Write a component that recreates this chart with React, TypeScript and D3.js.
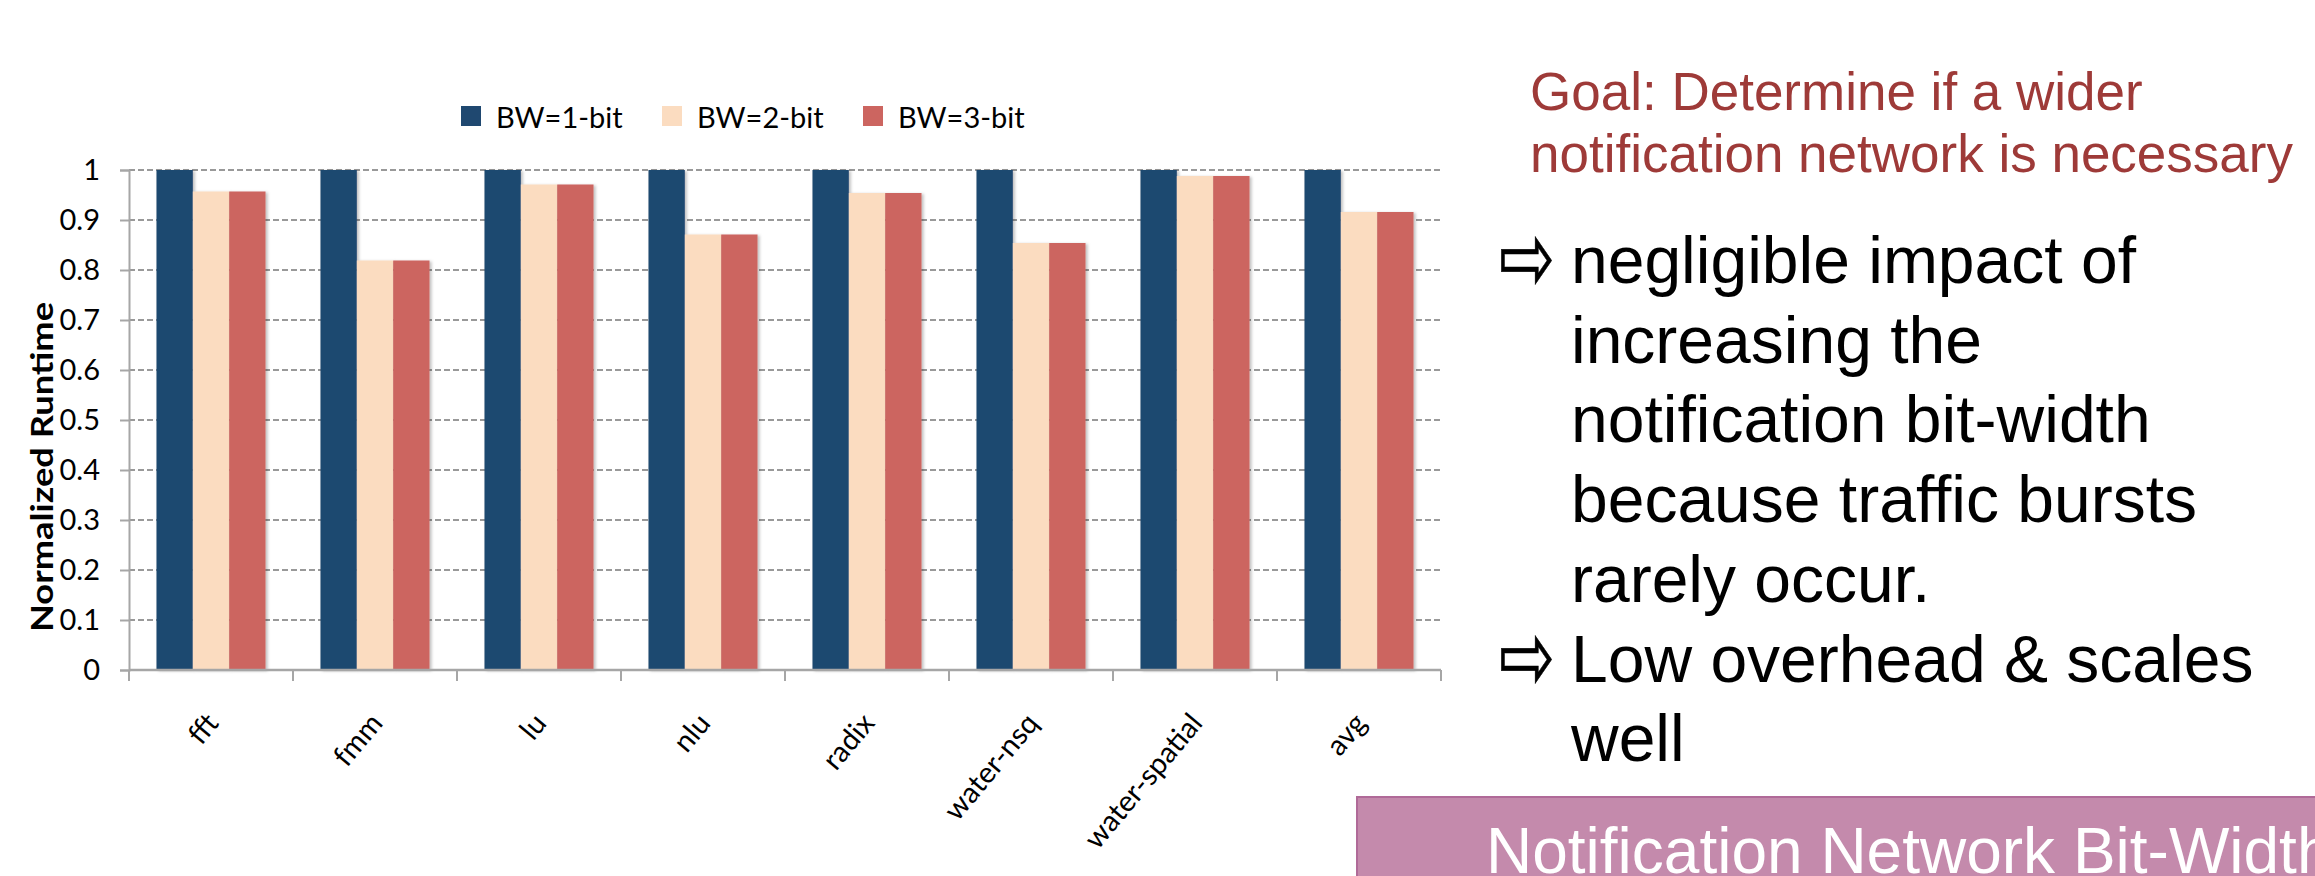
import * as React from 'react';
import * as d3 from 'd3';

// chart data
const categories = ['fft', 'fmm', 'lu', 'nlu', 'radix', 'water-nsq', 'water-spatial', 'avg'];
const seriesNames = ['BW=1-bit', 'BW=2-bit', 'BW=3-bit'];
const bw1 = [1, 1, 1, 1, 1, 1, 1, 1];
const bw2 = [0.957, 0.819, 0.971, 0.871, 0.954, 0.854, 0.988, 0.916];
const bw3 = [0.957, 0.819, 0.971, 0.871, 0.954, 0.854, 0.988, 0.916];
const yTicks = [0, 0.1, 0.2, 0.3, 0.4, 0.5, 0.6, 0.7, 0.8, 0.9, 1];
const seriesColors = ['#1f4870', '#fbdcc0', '#cc6560'];

// slide text
const goalLines = ['Goal: Determine if a wider', 'notification network is necessary'];
const bullets = [
    ['negligible impact of', 'increasing the', 'notification bit-width', 'because traffic bursts', 'rarely occur.'],
    ['Low overhead & scales', 'well']
];
const footerTitle = 'Notification Network Bit-Width';

const W = 2315;
const H = 876;
const plot = { left: 129, right: 1441, top: 170, bottom: 670 };

function App() {
    const ref = React.useRef<SVGSVGElement>(null);

    React.useEffect(() => {
        const svg = d3.select(ref.current);
        svg.selectAll('*').remove();

        const chartFont = 'Lato, "Open Sans", sans-serif';
        const slideFont = '"Liberation Sans", Arial, sans-serif';

        const defs = svg.append('defs');
        defs.append('filter')
            .attr('id', 'barShadow')
            .attr('x', '-20%').attr('y', '-5%').attr('width', '150%').attr('height', '110%')
            .append('feDropShadow')
            .attr('dx', 2).attr('dy', 1).attr('stdDeviation', 1.5)
            .attr('flood-color', '#000').attr('flood-opacity', 0.25);

        const x0 = d3.scaleBand<string>()
            .domain(categories)
            .range([plot.left, plot.right])
            .paddingInner(0.335)
            .paddingOuter(0.1675);
        const x1 = d3.scaleBand<string>()
            .domain(seriesNames)
            .range([0, x0.bandwidth()]);
        const y = d3.scaleLinear().domain([0, 1]).range([plot.bottom, plot.top]);

        // dashed gridlines
        svg.append('g')
            .selectAll('line')
            .data(yTicks.filter(t => t > 0))
            .enter()
            .append('line')
            .attr('x1', plot.left)
            .attr('x2', plot.right)
            .attr('y1', d => y(d))
            .attr('y2', d => y(d))
            .attr('stroke', '#999')
            .attr('stroke-width', 2)
            .attr('stroke-dasharray', '6,3');

        // bars
        const seriesValues = [bw1, bw2, bw3];
        const rows = categories.map((c, i) => ({
            cat: c,
            vals: seriesNames.map((s, k) => ({ key: s, value: seriesValues[k][i], color: seriesColors[k] }))
        }));

        const groups = svg.append('g')
            .selectAll('g')
            .data(rows)
            .enter()
            .append('g')
            .attr('transform', d => 'translate(' + x0(d.cat) + ',0)');

        groups.selectAll('rect')
            .data(d => d.vals)
            .enter()
            .append('rect')
            .attr('x', d => x1(d.key) as number)
            .attr('width', x1.bandwidth())
            .attr('y', d => y(d.value))
            .attr('height', d => y(0) - y(d.value))
            .attr('fill', d => d.color)
            .attr('filter', 'url(#barShadow)');

        // y axis
        const yAxis = svg.append('g')
            .attr('transform', 'translate(' + plot.left + ',0)')
            .call(d3.axisLeft(y).tickValues(yTicks).tickSize(9).tickPadding(20).tickFormat(d3.format('')));
        yAxis.select('.domain').attr('stroke', '#a6a6a6').attr('stroke-width', 2);
        yAxis.selectAll('.tick line').attr('stroke', '#a6a6a6').attr('stroke-width', 2);
        yAxis.selectAll('.tick text')
            .attr('font-family', chartFont)
            .attr('font-size', 29)
            .attr('fill', '#000');

        // x axis
        const xAxis = svg.append('g');
        xAxis.append('line')
            .attr('x1', plot.left).attr('x2', plot.right)
            .attr('y1', plot.bottom).attr('y2', plot.bottom)
            .attr('stroke', '#a6a6a6').attr('stroke-width', 2.5);
        xAxis.selectAll('line.tick')
            .data(d3.range(categories.length + 1))
            .enter()
            .append('line')
            .attr('class', 'tick')
            .attr('x1', i => plot.left + i * x0.step())
            .attr('x2', i => plot.left + i * x0.step())
            .attr('y1', plot.bottom)
            .attr('y2', plot.bottom + 11)
            .attr('stroke', '#a6a6a6')
            .attr('stroke-width', 2);
        xAxis.selectAll('text')
            .data(categories)
            .enter()
            .append('text')
            .attr('transform', c => 'translate(' + ((x0(c) as number) + x0.bandwidth() / 2 + 9) + ',' + (plot.bottom + 54) + ') rotate(-50)')
            .attr('text-anchor', 'end')
            .attr('font-family', chartFont)
            .attr('font-size', 29)
            .text(c => c);

        // y title (stretched along its length like the original)
        svg.append('text')
            .attr('transform', 'translate(53,467) rotate(-90)')
            .attr('text-anchor', 'middle')
            .attr('font-family', chartFont)
            .attr('font-weight', 'bold')
            .attr('font-size', 30)
            .attr('textLength', 330)
            .attr('lengthAdjust', 'spacingAndGlyphs')
            .text('Normalized Runtime');

        // legend
        const legend = svg.append('g')
            .selectAll('g')
            .data(seriesNames)
            .enter()
            .append('g')
            .attr('transform', (d, i) => 'translate(' + (461 + i * 201) + ',106)');
        legend.append('rect')
            .attr('width', 20)
            .attr('height', 20)
            .attr('fill', (d, i) => seriesColors[i]);
        legend.append('text')
            .attr('x', 35)
            .attr('y', 22)
            .attr('font-family', chartFont)
            .attr('font-size', 29)
            .text(d => d);

        // goal text
        svg.append('g')
            .selectAll('text')
            .data(goalLines)
            .enter()
            .append('text')
            .attr('x', 1530)
            .attr('y', (d, i) => 110 + i * 62)
            .attr('font-family', slideFont)
            .attr('font-size', 53)
            .attr('fill', '#9e3a38')
            .text(d => d);

        // bullets
        const lineH = 79.7;
        const firstBase = 283;
        let line = 0;
        const bulletG = svg.append('g');
        bullets.forEach(b => {
            bulletG.append('text')
                .attr('transform', 'translate(1499,' + (firstBase + line * lineH + 8) + ') scale(1,1.45)')
                .attr('font-family', '"DejaVu Sans", sans-serif')
                .attr('font-size', 67)
                .attr('stroke', '#000')
                .attr('stroke-width', 0.4)
                .text('\u21E8');
            b.forEach(t => {
                bulletG.append('text')
                    .attr('x', 1571)
                    .attr('y', firstBase + line * lineH)
                    .attr('font-family', slideFont)
                    .attr('font-size', 66)
                    .attr('fill', '#000')
                    .text(t);
                line++;
            });
        });

        // footer title bar
        svg.append('rect')
            .attr('x', 1357)
            .attr('y', 797)
            .attr('width', W - 1357 + 5)
            .attr('height', H - 797 + 5)
            .attr('fill', '#c48aac')
            .attr('stroke', '#b06a98')
            .attr('stroke-width', 2);
        svg.append('text')
            .attr('x', 1486)
            .attr('y', 873)
            .attr('font-family', slideFont)
            .attr('font-size', 64)
            .attr('fill', '#fff')
            .text(footerTitle);
    }, []);

    return (
        <svg ref={ref} width={W} height={H}
            style={{ position: 'absolute', left: 0, top: 0, background: '#fff' }} />
    );
}

export default App;
